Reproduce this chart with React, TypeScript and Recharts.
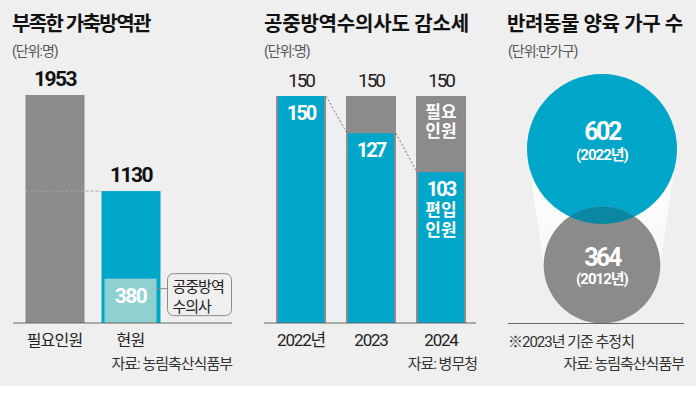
import React from "react";
import {
  BarChart,
  Bar,
  XAxis,
  YAxis,
  LabelList,
  ScatterChart,
  Scatter,
  ZAxis,
} from "recharts";

// 부족한 가축방역관 (단위: 명)
const staffLabels = ["필요인원", "현원"];
const staffCounts = [1953, 1130];
const publicVetCounts = [null, 380];

// 공중방역수의사도 감소세 (단위: 명)
const vetYears = ["2022년", "2023", "2024"];
const vetNeeded = [150, 150, 150];
const vetEnrolled = [150, 127, 103];

// 반려동물 양육 가구 수 (단위: 만가구)
const petYears = [2022, 2012];
const petHouseholds = [602, 364];

const BG = "#efefef";
const GRAY = "#8b8b8b";
const BLUE = "#00a6c8";
const LIGHT = "#8fd0d1";
const OVERLAP = "#0a88a3";
const INK = "#222";
const FONT = "Roboto, 'Noto Sans CJK KR', sans-serif";

const H = 386;

// panel 1 layout
const W1 = 240;
const M1 = { top: 95, right: 8, bottom: 33, left: 13 };
const PAD1 = { left: 3.5, right: 63.5 };
const STEP1 = (W1 - M1.left - M1.right - PAD1.left - PAD1.right) / staffLabels.length;

// panel 2 layout
const W2 = 240;
const M2 = { top: 96, right: 4, bottom: 33, left: 24 };
const PAD2 = { left: 2, right: 0 };
const STEP2 = (W2 - M2.left - M2.right - PAD2.left - PAD2.right) / vetYears.length;
const Y2_DOMAIN: [number, number] = [10, 150];

// panel 3 layout
const W3 = 216;
const M3 = { top: 114.2, right: 0, bottom: 63, left: 28 };
const MAX_R = 75;
const MAX_AREA = Math.PI * MAX_R * MAX_R;
const maxHouseholds = Math.max(...petHouseholds);
const radiusFor = (v: number) => Math.sqrt(((v / maxHouseholds) * MAX_AREA) / Math.PI);

const staffData = staffLabels.map((name, i) => ({
  name,
  count: staffCounts[i],
  vets: publicVetCounts[i],
}));

const vetData = vetYears.map((year, i) => ({
  year,
  needed: vetNeeded[i],
  enrolled: vetEnrolled[i],
}));

const petData = petYears.map((year, i) => ({
  col: 1,
  year,
  households: petHouseholds[i],
}));

function CategoryTick({ x, y, payload }: any) {
  return (
    <text
      x={x}
      y={y + 9}
      textAnchor="middle"
      dominantBaseline="central"
      fontFamily={FONT}
      fontSize={16}
      letterSpacing={-0.8}
      fill={INK}
    >
      {payload.value}
    </text>
  );
}

function YearTick({ x, y, payload }: any) {
  return (
    <text
      x={x}
      y={y + 9}
      textAnchor="middle"
      dominantBaseline="central"
      fontFamily={FONT}
      fontSize={17}
      letterSpacing={-1.2}
      fill={INK}
    >
      {payload.value}
    </text>
  );
}

function StaffBar(p: any) {
  const { x, y, width, height, index, payload } = p;
  const next = staffCounts[index + 1];
  const yNext = y + height - (next * height) / payload.count;
  return (
    <g>
      <rect x={x} y={y} width={width} height={height} fill={index === 0 ? GRAY : BLUE} />
      {next != null && (
        <line
          x1={x}
          x2={x + STEP1}
          y1={yNext}
          y2={yNext}
          stroke="#a5a5a5"
          strokeDasharray="3 2"
        />
      )}
    </g>
  );
}

function PublicVetBar(p: any) {
  const { x, y, width, height, payload } = p;
  if (!payload || !payload.vets || !height) return null;
  const bx = x + width + 11;
  return (
    <g fontFamily={FONT}>
      <rect x={x} y={y} width={width} height={height} fill={LIGHT} />
      <text
        x={x + width / 2}
        y={y + 17}
        textAnchor="middle"
        dominantBaseline="central"
        fontSize={21}
        fontWeight={700}
        letterSpacing={-1.5}
        fill="#fff"
      >
        {payload.vets}
      </text>
      <line x1={x + width} x2={bx} y1={y + 10} y2={y + 10} stroke="#8a8a8a" />
      <rect x={bx} y={y - 5} width={64} height={42} rx={6} fill="none" stroke="#8a8a8a" />
      <text x={bx + 5} y={y + 8} dominantBaseline="central" fontSize={15} letterSpacing={-1} fill={INK}>
        공중방역
      </text>
      <text x={bx + 5} y={y + 28} dominantBaseline="central" fontSize={15} letterSpacing={-1} fill={INK}>
        수의사
      </text>
    </g>
  );
}

function TopValue(p: any) {
  const { x, y, width, value } = p;
  return (
    <text
      x={x + width / 2}
      y={y - 16}
      textAnchor="middle"
      dominantBaseline="central"
      fontFamily={FONT}
      fontSize={21}
      fontWeight={700}
      letterSpacing={-1.5}
      fill="#111"
    >
      {value}
    </text>
  );
}

function NeededValue(p: any) {
  const { x, y, width, value } = p;
  return (
    <text
      x={x + width / 2}
      y={y - 16}
      textAnchor="middle"
      dominantBaseline="central"
      fontFamily={FONT}
      fontSize={19}
      letterSpacing={-2}
      fill={INK}
    >
      {value}
    </text>
  );
}

function NeededBar(p: any) {
  const { x, y, width, height, index } = p;
  const last = index === vetYears.length - 1;
  return (
    <g fontFamily={FONT}>
      <rect x={x} y={y} width={width} height={height} fill={GRAY} />
      {last && (
        <>
          <text x={x + width / 2} y={y + 16} textAnchor="middle" dominantBaseline="central" fontSize={17} fontWeight={700} fill="#fff">
            필요
          </text>
          <text x={x + width / 2} y={y + 35} textAnchor="middle" dominantBaseline="central" fontSize={17} fontWeight={700} fill="#fff">
            인원
          </text>
        </>
      )}
    </g>
  );
}

function EnrolledBar(p: any) {
  const { x, y, width, height, index, payload } = p;
  const value = payload.enrolled;
  const next = vetEnrolled[index + 1];
  const k = height / (value - Y2_DOMAIN[0]);
  const last = index === vetYears.length - 1;
  return (
    <g fontFamily={FONT}>
      <rect x={x} y={y} width={width} height={height} fill={BLUE} />
      <text x={x + width / 2} y={y + 17} textAnchor="middle" dominantBaseline="central" fontSize={20} fontWeight={700} letterSpacing={-2} fill="#fff">
        {value}
      </text>
      {last && (
        <>
          <text x={x + width / 2} y={y + 38} textAnchor="middle" dominantBaseline="central" fontSize={17} fontWeight={700} fill="#fff">
            편입
          </text>
          <text x={x + width / 2} y={y + 58} textAnchor="middle" dominantBaseline="central" fontSize={17} fontWeight={700} fill="#fff">
            인원
          </text>
        </>
      )}
      {next != null && (
        <line
          x1={x + width + 2}
          y1={y}
          x2={x + STEP2 - 1}
          y2={y + (value - next) * k}
          stroke="#777"
          strokeDasharray="2 2"
        />
      )}
    </g>
  );
}

function Funnel(p: any) {
  const pts = p.points || [];
  if (pts.length < 2) return null;
  const [a, b] = pts;
  const ra = radiusFor(petHouseholds[0]);
  const rb = radiusFor(petHouseholds[1]);
  const d = `M${a.x - ra},${a.y} L${a.x + ra},${a.y} L${b.x + rb},${b.y} L${b.x - rb},${b.y} Z`;
  return (
    <g>
      <defs>
        <linearGradient id="funnelFade" x1="0" y1="0" x2="0" y2="1">
          <stop offset="0" stopColor="#fff" stopOpacity={0.95} />
          <stop offset="1" stopColor="#fff" stopOpacity={0.6} />
        </linearGradient>
      </defs>
      <path d={d} fill="url(#funnelFade)" />
    </g>
  );
}

function PetCircle(p: any) {
  const { cx, cy, payload } = p;
  const r = radiusFor(payload.households);
  const latest = payload.year === Math.max(...petYears);
  const numY = latest ? cy - 18 : cy - 8;
  const yearY = latest ? cy + 6 : cy + 14;
  return (
    <g fontFamily={FONT}>
      {latest && (
        <defs>
          <clipPath id="latestClip">
            <circle cx={cx} cy={cy} r={r} />
          </clipPath>
        </defs>
      )}
      <circle cx={cx} cy={cy} r={r} fill={latest ? BLUE : GRAY} />
      {!latest && <circle cx={cx} cy={cy} r={r} fill={OVERLAP} clipPath="url(#latestClip)" />}
      <text x={cx} y={numY} textAnchor="middle" dominantBaseline="central" fontSize={25} fontWeight={700} letterSpacing={-2.5} fill="#fff">
        {payload.households}
      </text>
      <text x={cx} y={yearY} textAnchor="middle" dominantBaseline="central" fontSize={15} fontWeight={700} letterSpacing={-1} fill="#fff">
        ({payload.year}년)
      </text>
    </g>
  );
}

const abs = (left: number, top: number, extra: React.CSSProperties = {}): React.CSSProperties => ({
  position: "absolute",
  left,
  top,
  whiteSpace: "nowrap",
  ...extra,
});

const titleStyle: React.CSSProperties = {
  fontSize: 20,
  lineHeight: "20px",
  fontWeight: 700,
  letterSpacing: -1,
  color: "#111",
};
const unitStyle: React.CSSProperties = {
  fontSize: 14,
  lineHeight: "14px",
  letterSpacing: -1,
  color: "#555",
};
const noteStyle: React.CSSProperties = {
  fontSize: 15,
  lineHeight: "15px",
  letterSpacing: -1,
  color: "#333",
};

export default function App() {
  return (
    <div style={{ position: "relative", width: 696, height: 414, background: "#fff", fontFamily: FONT }}>
      <style>{"body{margin:0}"}</style>
      <div style={{ position: "absolute", left: 0, top: 0, width: 696, height: H, background: BG }} />

      <div style={abs(12, 14, { ...titleStyle, letterSpacing: -1.6 })}>부족한 가축방역관</div>
      <div style={abs(12, 44, unitStyle)}>(단위:명)</div>
      <div style={abs(264, 14, { ...titleStyle, letterSpacing: -0.2 })}>공중방역수의사도 감소세</div>
      <div style={abs(264, 44, unitStyle)}>(단위:명)</div>
      <div style={abs(507, 14, { ...titleStyle, letterSpacing: -0.4 })}>반려동물 양육 가구 수</div>
      <div style={abs(508, 44, unitStyle)}>(단위:만가구)</div>

      <div style={abs(0, 0)}>
        <BarChart width={W1} height={H} data={staffData} margin={M1}>
          <XAxis
            xAxisId="main"
            dataKey="name"
            padding={PAD1}
            height={30}
            axisLine={{ stroke: "#666" }}
            tickLine={false}
            tick={<CategoryTick />}
            interval={0}
          />
          <XAxis xAxisId="inner" dataKey="name" padding={PAD1} height={0} hide />
          <YAxis domain={[0, Math.max(...staffCounts)]} hide />
          <Bar xAxisId="main" dataKey="count" barSize={59} shape={StaffBar} isAnimationActive={false}>
            <LabelList dataKey="count" content={TopValue} />
          </Bar>
          <Bar xAxisId="inner" dataKey="vets" barSize={52} shape={PublicVetBar} isAnimationActive={false} />
        </BarChart>
      </div>

      <div style={abs(240, 0)}>
        <BarChart width={W2} height={H} data={vetData} margin={M2}>
          <XAxis
            xAxisId="need"
            dataKey="year"
            padding={PAD2}
            height={30}
            axisLine={{ stroke: "#666" }}
            tickLine={false}
            tick={<YearTick />}
            interval={0}
          />
          <XAxis xAxisId="enrol" dataKey="year" padding={PAD2} height={0} hide />
          <YAxis domain={Y2_DOMAIN} hide />
          <Bar xAxisId="need" dataKey="needed" barSize={50} shape={NeededBar} isAnimationActive={false}>
            <LabelList dataKey="needed" content={NeededValue} />
          </Bar>
          <Bar xAxisId="enrol" dataKey="enrolled" barSize={46} shape={EnrolledBar} isAnimationActive={false} />
        </BarChart>
      </div>

      <div style={abs(480, 0)}>
        <ScatterChart width={W3} height={H} margin={M3}>
          <XAxis type="number" dataKey="col" domain={[0, 2]} hide />
          <YAxis type="number" dataKey="year" domain={[2007, 2025]} hide />
          <ZAxis type="number" dataKey="households" domain={[0, maxHouseholds]} range={[0, MAX_AREA]} />
          <Scatter data={petData} shape={PetCircle} line={Funnel} isAnimationActive={false} />
        </ScatterChart>
      </div>
      <div style={abs(508, 323, { width: 176, height: 1, background: "#666" })} />

      <div style={abs(0, 357, { ...noteStyle, width: 232, textAlign: "right" })}>자료: 농림축산식품부</div>
      <div style={abs(0, 357, { ...noteStyle, width: 477, textAlign: "right" })}>자료: 병무청</div>
      <div style={abs(508, 335, noteStyle)}>※2023년 기준 추정치</div>
      <div style={abs(0, 357, { ...noteStyle, width: 684, textAlign: "right" })}>자료: 농림축산식품부</div>
    </div>
  );
}
